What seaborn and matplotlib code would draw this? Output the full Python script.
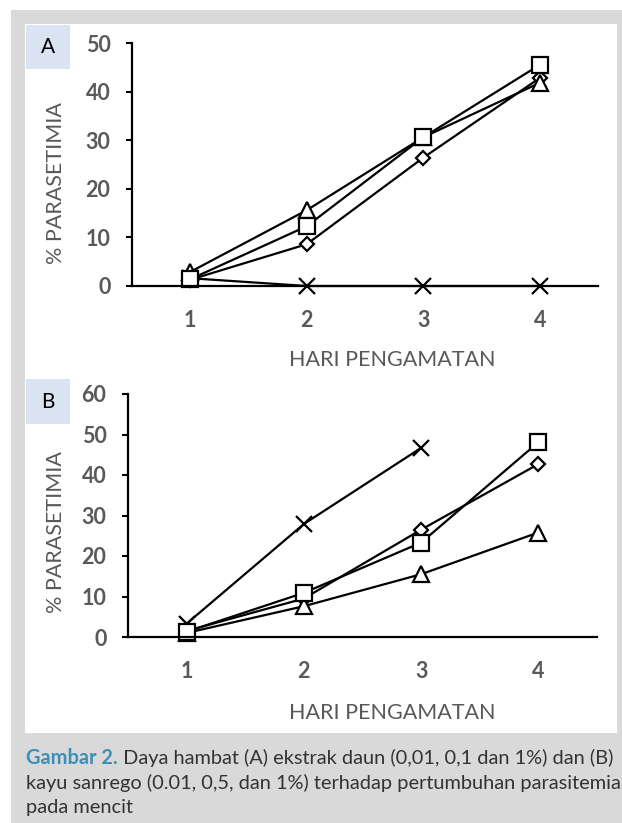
import numpy as np
import pandas as pd
import matplotlib
matplotlib.use("Agg")
import matplotlib.pyplot as plt
from matplotlib.patches import Rectangle
import seaborn as sns

# ---------------- data ----------------
days = [1, 2, 3, 4]
day_labels = ["1", "2", "3", "4"]

a_cross = [1.6, 0.0, 0.0, 0.0]
a_diamond = [1.3, 8.6, 26.4, 42.8]
a_triangle = [2.9, 15.6, 30.6, 41.8]
a_square = [1.4, 12.3, 30.6, 45.5]

b_cross = [3.3, 27.9, 46.7, np.nan]
b_diamond = [1.5, 9.5, 26.5, 42.7]
b_triangle = [1.0, 7.6, 15.5, 25.8]
b_square = [1.3, 10.9, 23.3, 48.1]

yticks_a = [0, 10, 20, 30, 40, 50]
yticks_b = [0, 10, 20, 30, 40, 50, 60]

xlabel_text = "HARI PENGAMATAN"
ylabel_text = "% PARASETIMIA"
panel_letters = ["A", "B"]
caption_head = "Gambar 2."
caption_line1 = " Daya hambat (A) ekstrak daun (0,01, 0,1 dan 1%) dan (B)"
caption_line2 = "kayu sanrego (0.01, 0,5, dan 1%) terhadap pertumbuhan parasitemia"
caption_line3 = "pada mencit"

# ---------------- style ----------------
sns.set_style("white")
plt.rcParams["font.family"] = ["Lato", "DejaVu Sans"]

W, H = 622, 823
fig = plt.figure(figsize=(W / 100, H / 100), dpi=100)
fig.patch.set_facecolor("white")


def fx(px):
    return px / W


def fy(py):
    return 1 - py / H


def rect(x0, y0, x1, y1, color, z):
    fig.patches.append(Rectangle((fx(x0), fy(y1)), fx(x1) - fx(x0), fy(y0) - fy(y1),
                                 transform=fig.transFigure, facecolor=color,
                                 edgecolor="none", zorder=z))


rect(11, 10, 622, 823, "#d9d9d9", 0)
rect(25, 24, 617, 733, "white", 1)
rect(26, 25, 70, 69, "#dae3f1", 2)
rect(26, 379, 70, 424, "#dae3f1", 2)

grey = "#595959"
lw = 1.6

series_style = [
    ("x", 11, 1.6),
    ("D", 7.5, 1.6),
    ("^", 11, 1.6),
    ("s", 12, 1.6),
]


def draw(ax, series, yticks):
    for vals, (mk, ms, mew) in zip(series, series_style):
        df = pd.DataFrame({"day": days, "val": vals}).dropna()
        sns.lineplot(data=df, x="day", y="val", ax=ax, color="black", linewidth=lw,
                     marker=mk, markersize=ms, markeredgewidth=mew,
                     markerfacecolor="white", markeredgecolor="black",
                     estimator=None, sort=False)
    ax.set_xlim(0.5, 4.5)
    ax.set_ylim(yticks[0], yticks[-1])
    ax.set_yticks(yticks)
    ax.set_xticks(days)
    ax.set_xticklabels(day_labels)
    ax.set_xlabel("")
    ax.set_ylabel("")
    for s in ["top", "right"]:
        ax.spines[s].set_visible(False)
    for s in ["left", "bottom"]:
        ax.spines[s].set_color("black")
        ax.spines[s].set_linewidth(1.6)
    ax.tick_params(axis="y", direction="out", length=4.5, width=1.5, color="black",
                   labelcolor=grey, pad=11, left=True)
    ax.tick_params(axis="x", length=0, labelcolor=grey, pad=17, bottom=True)
    for lab in ax.get_xticklabels() + ax.get_yticklabels():
        lab.set_fontweight("bold")
        lab.set_fontsize(15.5)
    ax.patch.set_alpha(0)
    for l in ax.lines:
        l.set_clip_on(False)


# Panel A: x from 132 to 598, y from 43 (50) to 286 (0)
axA = fig.add_axes([fx(132), fy(286), fx(598) - fx(132), fy(43) - fy(286)], zorder=3)
draw(axA, [a_cross, a_diamond, a_triangle, a_square], yticks_a)
# Panel B: x from 128 to 597, y from 394 (60) to 637 (0)
axB = fig.add_axes([fx(128), fy(637), fx(597) - fx(128), fy(394) - fy(637)], zorder=3)
draw(axB, [b_cross, b_diamond, b_triangle, b_square], yticks_b)

# axis titles
for cy_x, cy_y in [(360, 183), (713, 532)]:
    fig.text(fx(392), fy(cy_x), xlabel_text, ha="center", va="center",
             color=grey, fontsize=15.5, zorder=5)
    fig.text(fx(56), fy(cy_y), ylabel_text, ha="center", va="center", rotation=90,
             color=grey, fontsize=15.5, zorder=5)

# panel letters
fig.text(fx(48), fy(47), panel_letters[0], ha="center", va="center",
         fontsize=15, color="black", zorder=5)
fig.text(fx(48), fy(402), panel_letters[1], ha="center", va="center",
         fontsize=15, color="black", zorder=5)

# caption
cap_size = 14.4
renderer = fig.canvas.get_renderer()
t_head = fig.text(fx(26), fy(758), caption_head, ha="left", va="center",
                  fontsize=cap_size, fontweight="bold", color="#3b8fb8", zorder=5)
bb = t_head.get_window_extent(renderer)
fig.text(bb.x1 / W, fy(758), caption_line1, ha="left", va="center",
         fontsize=cap_size, color="#333333", zorder=5)
fig.text(fx(26), fy(783), caption_line2, ha="left", va="center",
         fontsize=cap_size, color="#333333", zorder=5)
fig.text(fx(26), fy(808), caption_line3, ha="left", va="center",
         fontsize=cap_size, color="#333333", zorder=5)

fig.savefig("out.png", dpi=100, facecolor=fig.get_facecolor())
